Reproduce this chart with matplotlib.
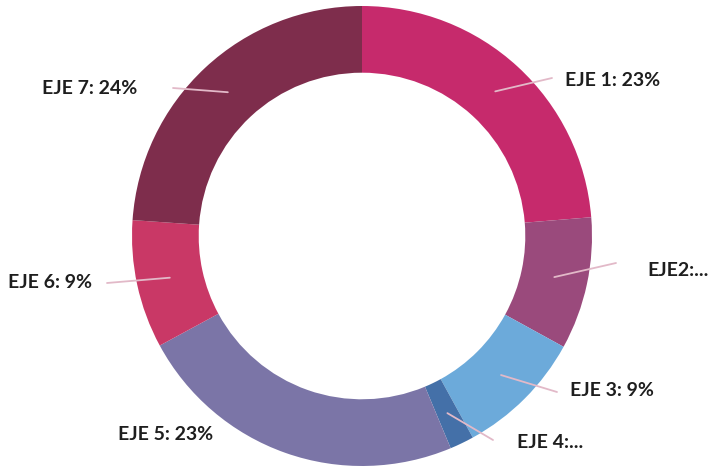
import matplotlib.pyplot as plt
import numpy as np

# Shares per axis (estimated from the ring angles; labels show rounded values)
labels = ['EJE 1: 23%', 'EJE2:...', 'EJE 3: 9%', 'EJE 4:...', 'EJE 5: 23%', 'EJE 6: 9%', 'EJE 7: 24%']
shares = [23.7, 9.3, 9.0, 1.7, 23.4, 9.0, 23.9]
colors = ['#C62A6C', '#9A4A7C', '#6CAADA', '#4470A8', '#7B75A7', '#C93866', '#7E2D4C']

W, H = 710, 470
cx, cy = 362, H - 236
r_out = 230
ring = 0.29

# label anchors in pixel units (x, y from top) and leader line ends
label_pos = [(565, 80), (647, 270), (570, 391), (517, 443),
             (118, 435), (8, 283), (42, 88)]
leader_end = [(552, 78), (616, 263), (557, 392), (493, 440), None, (107, 283), (173, 88)]

fig = plt.figure(figsize=(7.1, 4.7), dpi=100)
fig.patch.set_facecolor('white')
ax = fig.add_axes([0, 0, 1, 1])

wedges, _ = ax.pie(shares, colors=colors, startangle=90, counterclock=False,
                   radius=r_out, center=(cx, cy), frame=True,
                   wedgeprops=dict(width=r_out * ring, linewidth=0))
ax.set_xlim(0, W)
ax.set_ylim(0, H)
ax.set_aspect('equal')
ax.axis('off')

r_mid = r_out * (1 - ring / 2)
for w, lab, pos, end in zip(wedges, labels, label_pos, leader_end):
    ang = np.deg2rad((w.theta1 + w.theta2) / 2)
    sx, sy = cx + r_mid * np.cos(ang), cy + r_mid * np.sin(ang)
    if end is not None:
        ax.plot([sx, end[0]], [sy, H - end[1]], color='#E2B9C8', lw=1.3,
                solid_capstyle='round', zorder=3)
    ax.text(pos[0], H - pos[1], lab, ha='left', va='center', fontsize=14,
            fontweight='bold', color='#1E1E1E', family=['Lato', 'DejaVu Sans'])

plt.savefig('out.png', dpi=100, facecolor='white')
